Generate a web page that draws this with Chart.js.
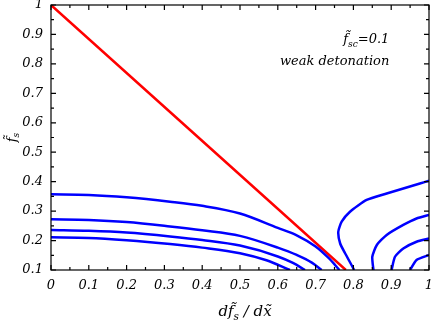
<!DOCTYPE html>
<html>
<head>
<meta charset="utf-8">
<script src="https://cdn.jsdelivr.net/npm/chart.js@4.4.1/dist/chart.umd.min.js"></script>
<style>
  html, body { margin: 0; padding: 0; background: #fff; }
  #wrap { position: relative; width: 436px; height: 320px; }
</style>
</head>
<body>
<div id="wrap"><canvas id="chart"></canvas></div>
<script>
// boundary line f_s = 1 - k * df_s/dx
const redX = [0, 0.78];
const redY = [1, 0.1];

// left family of contours
const c1X = [0, 0.1, 0.2, 0.315, 0.4, 0.5, 0.6, 0.65, 0.7, 0.735, 0.763];
const c1Y = [0.357, 0.355, 0.347, 0.332, 0.318, 0.292, 0.243, 0.218, 0.18, 0.14, 0.1];
const c2X = [0, 0.1, 0.2, 0.315, 0.4, 0.5, 0.6, 0.65, 0.69, 0.716];
const c2Y = [0.272, 0.27, 0.263, 0.248, 0.235, 0.216, 0.176, 0.151, 0.125, 0.1];
const c3X = [0, 0.1, 0.2, 0.315, 0.4, 0.5, 0.6, 0.64, 0.672];
const c3Y = [0.236, 0.233, 0.227, 0.214, 0.202, 0.183, 0.146, 0.124, 0.1];
const c4X = [0, 0.1, 0.2, 0.315, 0.4, 0.5, 0.57, 0.632];
const c4Y = [0.211, 0.209, 0.201, 0.188, 0.176, 0.157, 0.133, 0.1];

// right family of contours
const c5X = [1, 0.976, 0.932, 0.888, 0.835, 0.791, 0.769, 0.76, 0.765, 0.778, 0.795, 0.802];
const c5Y = [0.403, 0.394, 0.377, 0.36, 0.338, 0.298, 0.264, 0.23, 0.19, 0.157, 0.117, 0.1];
const c6X = [1, 0.967, 0.932, 0.888, 0.862, 0.85, 0.853];
const c6Y = [0.287, 0.275, 0.253, 0.219, 0.185, 0.145, 0.1];
const c7X = [1, 0.967, 0.932, 0.91, 0.901];
const c7Y = [0.207, 0.196, 0.173, 0.145, 0.1];
const c8X = [1, 0.967, 0.95];
const c8Y = [0.151, 0.134, 0.1];

const xTicks = [0, 0.1, 0.2, 0.3, 0.4, 0.5, 0.6, 0.7, 0.8, 0.9, 1];
const yTicks = [0.1, 0.2, 0.3, 0.4, 0.5, 0.6, 0.7, 0.8, 0.9, 1];

const serif = '"DejaVu Serif", "Liberation Serif", serif';

function pts(xs, ys) {
    return xs.map((x, i) => ({x: x, y: ys[i]}));
}

function line(xs, ys, color, monotone) {
    return {
        data: pts(xs, ys),
        showLine: true,
        borderColor: color,
        borderWidth: 2.5,
        pointRadius: 0,
        tension: 0.2,
        cubicInterpolationMode: monotone ? 'monotone' : 'default',
        fill: false
    };
}

// draws a list of [text, isSub] pieces starting at x
function drawPieces(ctx, pieces, x, y, size) {
    pieces.forEach(p => {
        const s = p[1] ? size * 0.7 : size;
        ctx.font = 'italic ' + s + 'px ' + serif;
        ctx.fillText(p[0], x, p[1] ? y + size * 0.25 : y);
        x += ctx.measureText(p[0]).width;
    });
}

function piecesWidth(ctx, pieces, size) {
    let w = 0;
    pieces.forEach(p => {
        const s = p[1] ? size * 0.7 : size;
        ctx.font = 'italic ' + s + 'px ' + serif;
        w += ctx.measureText(p[0]).width;
    });
    return w;
}

const framePlugin = {
    id: 'frame',
    afterDraw(chart) {
        const ctx = chart.ctx;
        const a = chart.chartArea;
        const xs = chart.scales.x, ys = chart.scales.y;
        ctx.save();
        ctx.strokeStyle = '#000';
        ctx.lineWidth = 1.2;
        ctx.strokeRect(a.left, a.top, a.right - a.left, a.bottom - a.top);

        ctx.beginPath();
        for (let v = 0; v <= 1.0001; v += 0.05) {
            const len = Math.round(v * 20) % 2 === 0 ? 5 : 3;
            const px = xs.getPixelForValue(v);
            ctx.moveTo(px, a.bottom); ctx.lineTo(px, a.bottom - len);
            ctx.moveTo(px, a.top); ctx.lineTo(px, a.top + len);
        }
        for (let v = 0.1; v <= 1.0001; v += 0.05) {
            const len = Math.round(v * 20) % 2 === 0 ? 5 : 3;
            const py = ys.getPixelForValue(v);
            ctx.moveTo(a.left, py); ctx.lineTo(a.left + len, py);
            ctx.moveTo(a.right, py); ctx.lineTo(a.right - len, py);
        }
        ctx.stroke();

        ctx.fillStyle = '#000';
        ctx.textBaseline = 'alphabetic';
        ctx.textAlign = 'left';

        // annotation, right aligned
        const ann1 = [['f\u0303', false], ['sc', true], ['=0.1', false]];
        const ann2 = [['weak detonation', false]];
        const right = xs.getPixelForValue(0.895);
        drawPieces(ctx, ann1, right - piecesWidth(ctx, ann1, 13), ys.getPixelForValue(0.87), 13);
        drawPieces(ctx, ann2, right - piecesWidth(ctx, ann2, 13), ys.getPixelForValue(0.795), 13);

        // x axis title
        const xt = [['df\u0303', false], ['s', true], [' / d', false], ['x\u0303', false]];
        const cx = (a.left + a.right) / 2;
        drawPieces(ctx, xt, cx - piecesWidth(ctx, xt, 15) / 2 + 5, 316, 15);

        // y axis title, rotated
        const yt = [['f\u0303', false], ['s', true]];
        ctx.translate(16, (a.top + a.bottom) / 2);
        ctx.rotate(-Math.PI / 2);
        drawPieces(ctx, yt, -piecesWidth(ctx, yt, 13) / 2, 0, 13);
        ctx.restore();
    }
};

new Chart(document.getElementById('chart'), {
    type: 'scatter',
    data: {
        datasets: [
            line(c1X, c1Y, '#0000ff', true),
            line(c2X, c2Y, '#0000ff', true),
            line(c3X, c3Y, '#0000ff', true),
            line(c4X, c4Y, '#0000ff', true),
            line(c5X, c5Y, '#0000ff', false),
            line(c6X, c6Y, '#0000ff', false),
            line(c7X, c7Y, '#0000ff', false),
            line(c8X, c8Y, '#0000ff', false),
            line(redX, redY, '#ff0000', false)
        ]
    },
    options: {
        responsive: true,
        maintainAspectRatio: false,
        animation: false,
        layout: { padding: { top: 5, right: 7, left: 0, bottom: 0 } },
        plugins: { legend: { display: false }, tooltip: { enabled: false } },
        scales: {
            x: {
                type: 'linear',
                min: 0, max: 1,
                afterBuildTicks: s => { s.ticks = xTicks.map(v => ({value: v})); },
                afterFit: s => { s.height = 50; s.paddingLeft = 0; s.paddingRight = 0; },
                grid: { display: false, drawTicks: false },
                border: { display: false },
                ticks: {
                    padding: 8,
                    color: '#000',
                    font: { family: serif, size: 13, style: 'italic' },
                    callback: v => String(Math.round(v * 10) / 10)
                }
            },
            y: {
                type: 'linear',
                min: 0.1, max: 1,
                afterBuildTicks: s => { s.ticks = yTicks.map(v => ({value: v})); },
                afterFit: s => { s.width = 51; s.paddingTop = 0; s.paddingBottom = 0; },
                grid: { display: false, drawTicks: false },
                border: { display: false },
                ticks: {
                    padding: 8,
                    color: '#000',
                    font: { family: serif, size: 13, style: 'italic' },
                    callback: v => String(Math.round(v * 10) / 10)
                }
            }
        }
    },
    plugins: [framePlugin]
});
</script>
</body>
</html>
